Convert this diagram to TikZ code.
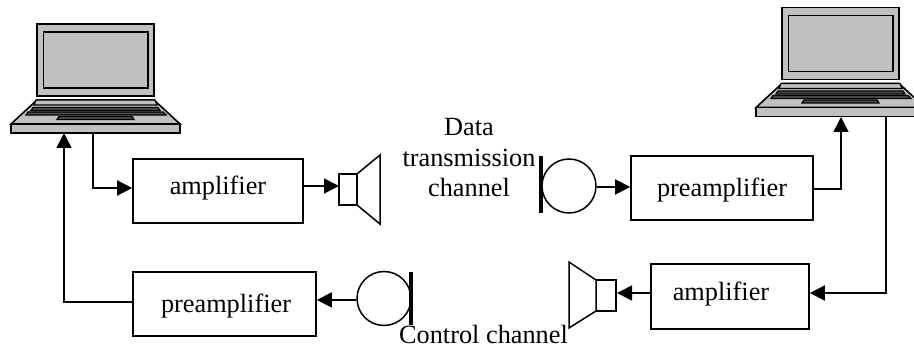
\documentclass[tikz,border=0pt]{standalone}
\usepackage{fontspec}
\setmainfont{Liberation Serif}
\usetikzlibrary{arrows.meta}
\definecolor{pcgray}{HTML}{C0C0C0}
\definecolor{keygray}{HTML}{505050}
\tikzset{
 x=1pt,y=-1pt,
 ln/.style={line width=1.5pt,draw=black},
 wire/.style={line width=1.5pt,draw=black,-{Triangle[length=15pt,width=15pt]}},
 blockbox/.style={draw=black,line width=1.6pt,fill=white,inner sep=0pt,text height=18pt,text depth=6pt,font=\fontsize{26.3}{30}\selectfont},
 lbl/.style={inner sep=0pt,align=center,font=\fontsize{26.3}{30.5}\selectfont},
 mic/.style={circle,draw=black,line width=1.5pt,minimum size=54pt,inner sep=0pt},
 pc/.style={fill=pcgray,draw=black,line width=1.6pt,line join=miter},
 key/.style={fill=keygray,draw=black,line width=1.2pt},
}
\newcommand{\laptop}[2]{%
\begin{scope}[shift={(#1,#2)}]
 \draw[pc] (37,24) rectangle (154,96);
 \draw[pc] (43.5,32) rectangle (148,88);
 \draw[pc] (37,100) -- (154,100) -- (180,124) -- (11,124) -- cycle;
 \draw[pc,line width=1.2pt] (36,100) -- (155,100) -- (157,105) -- (34,105) -- cycle;
 \draw[key] (33,107.5) -- (158,107.5) -- (160,110.5) -- (31,110.5) -- cycle;
 \draw[key] (28,112) -- (163,112) -- (166,115) -- (26,115) -- cycle;
 \draw[key] (59,116.5) -- (132,116.5) -- (134,119.5) -- (57,119.5) -- cycle;
 \draw[pc] (11,124) rectangle (180,133);
\end{scope}}
\begin{document}
\begin{tikzpicture}
\useasboundingbox (0,0) rectangle (914,347);
\clip (0,0) rectangle (914,347);
\laptop{0}{0}
\laptop{745}{-16.5}
\node[blockbox,minimum width=170pt,minimum height=64pt] (ampL) at (218,191) {\raisebox{2pt}{amplifier}};
\node[blockbox,minimum width=182pt,minimum height=64pt] (preR) at (722,188) {\raisebox{-3pt}{preamplifier}};
\node[blockbox,minimum width=183pt,minimum height=64pt] (preL) at (224.5,304) {\raisebox{-3pt}{\hspace{3pt}preamplifier}};
\node[blockbox,minimum width=158pt,minimum height=65pt] (ampR) at (730,296.5) {\raisebox{1.5pt}{amplifier\hspace{18pt}}};
% left speaker
\draw[ln,fill=white] (339,174) rectangle (357,205);
\draw[ln,fill=white] (357,174) -- (380,155) -- (380,224) -- (357,205) -- cycle;
\coordinate (spkL) at (339,186);
% right speaker
\draw[ln,fill=white] (596,280) rectangle (616,311);
\draw[ln,fill=white] (596,280) -- (569,262) -- (569,328) -- (596,311) -- cycle;
\coordinate (spkR) at (617,293);
% mic top
\node[mic] (micT) at (569,186) {};
\draw[line width=4pt] (541,156) -- (541,213);
% mic bottom
\node[mic] (micB) at (384,298.5) {};
\draw[line width=4pt] (411,272) -- (411,325);
\coordinate (lapLa) at (64,133);
\coordinate (lapLb) at (93,133);
\coordinate (lapRa) at (841,117);
\coordinate (lapRb) at (886,116);
\draw[wire] (lapLb) -- (93,188) -- (ampL.west |- 0,188);
\draw[wire] (ampL.east |- 0,186) -- (spkL);
\draw[wire] (micT.-2) -- (preR.west |- micT.-2);
\draw[wire] (preR.east |- 0,189) -- (841,189) -- (lapRa);
\draw[wire] (lapRb) -- (886,293) -- (ampR.east |- 0,293);
\draw[wire] (ampR.west |- 0,293) -- (spkR);
\draw[wire] (micB.183) -- (preL.east |- micB.183);
\draw[wire] (preL.west |- 0,302) -- (64,302) -- (lapLa);
\node[lbl] (dt) at (469,158) {Data\\transmission\\channel};
\node[lbl,anchor=base] (cc) at (483.5,344) {Control channel};
\end{tikzpicture}
\end{document}
